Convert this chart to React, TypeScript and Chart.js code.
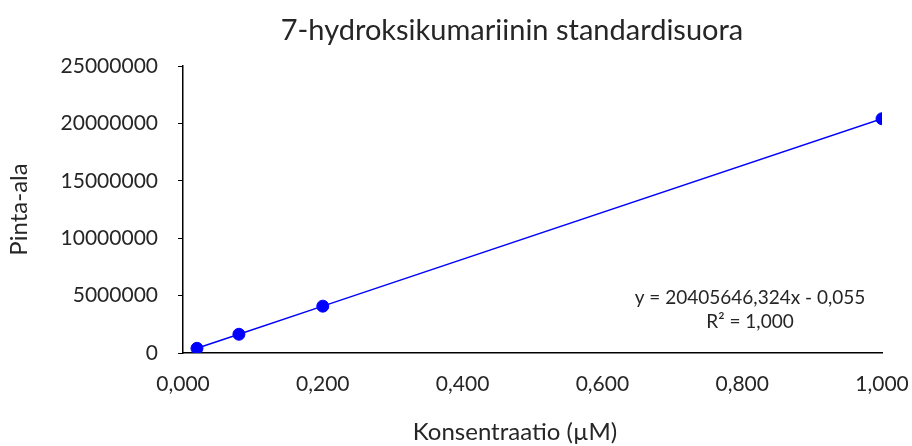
import React, { useEffect, useRef } from "react";
import { Chart, registerables } from "chart.js";

Chart.register(...registerables);

const concentrations = [0.02, 0.08, 0.2, 1.0];
const areas = [408000, 1632000, 4081000, 20405600];
const titleText = "7-hydroksikumariinin standardisuora";
const xTitle = "Konsentraatio (µM)";
const yTitle = "Pinta-ala";
const equationLines = ["y = 20405646,324x - 0,055", "R² = 1,000"];

const FONT = "Lato, 'Open Sans', sans-serif";
const TEXT = "#262626";
const BLUE = "#0000FF";

export default function App() {
  const ref = useRef<HTMLCanvasElement | null>(null);
  useEffect(() => {
    document.body.style.margin = "0";
    const canvas = ref.current!;
    const textPlugin = {
      id: "texts",
      afterDatasetsDraw(chart: any) {
        const { ctx, chartArea } = chart;
        ctx.save();
        ctx.fillStyle = TEXT;
        ctx.textAlign = "center";
        ctx.textBaseline = "middle";
        ctx.font = `19px ${FONT}`;
        const cx = chartArea.right - 132;
        ctx.fillText(equationLines[0], cx, chartArea.bottom - 55);
        ctx.fillText(equationLines[1], cx, chartArea.bottom - 31);
        ctx.font = `29px ${FONT}`;
        ctx.fillText(titleText, 512, 31);
        ctx.font = `24px ${FONT}`;
        ctx.fillText(xTitle, 515, 432);
        ctx.restore();
      },
    };
    const chart = new Chart(canvas, {
      type: "scatter",
      data: {
        datasets: [
          {
            data: concentrations.map((x, i) => ({ x, y: areas[i] })),
            showLine: true,
            borderColor: BLUE,
            backgroundColor: BLUE,
            borderWidth: 1.5,
            pointRadius: 6,
            pointBorderWidth: 1,
            pointBorderColor: BLUE,
            pointBackgroundColor: BLUE,
          },
        ],
      },
      options: {
        animation: false,
        responsive: false,
        layout: { padding: { left: 0, right: 30, top: 66, bottom: 0 } },
        plugins: {
          legend: { display: false },
          tooltip: { enabled: false },
          title: { display: false },
        },
        scales: {
          x: {
            type: "linear",
            min: 0,
            max: 1,
            ticks: {
              stepSize: 0.2,
              color: TEXT,
              font: { family: FONT, size: 21 },
              padding: 19,
              callback: (v: any) => Number(v).toFixed(3).replace(".", ","),
            },
            grid: { display: false, drawTicks: false },
            border: { display: true, color: "#000", width: 1.5 },
            title: { display: false },
            afterFit: (s: any) => {
              s.height = 93;
              s.paddingLeft = 0;
              s.paddingRight = 0;
            },
          },
          y: {
            type: "linear",
            min: 0,
            max: 25000000,
            ticks: {
              stepSize: 5000000,
              color: TEXT,
              font: { family: FONT, size: 21 },
              padding: 20,
              callback: (v: any) => String(v),
            },
            grid: {
              display: true,
              drawOnChartArea: false,
              drawTicks: true,
              tickLength: 5,
              color: "#000",
            },
            border: { display: true, color: "#000", width: 1.5 },
            title: {
              display: true,
              text: yTitle,
              color: TEXT,
              font: { family: FONT, size: 24 },
              padding: { top: 5, bottom: 0 },
            },
            afterFit: (s: any) => {
              s.width = 183;
              s.paddingTop = 0;
              s.paddingBottom = 0;
            },
          },
        },
      },
      plugins: [textPlugin],
    });
    return () => chart.destroy();
  }, []);
  return <canvas ref={ref} width={912} height={446} style={{ display: "block" }} />;
}
